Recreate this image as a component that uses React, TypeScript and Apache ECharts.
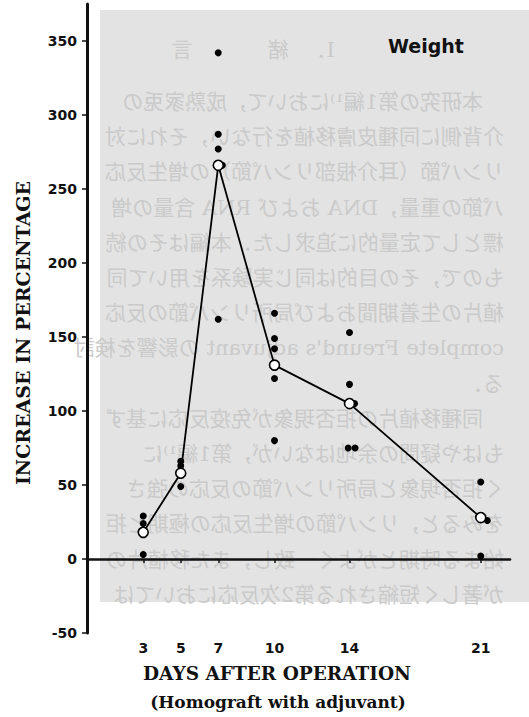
import React, { useEffect, useRef } from "react";
import * as echarts from "echarts";

// ---- data ----
const DAYS = [3, 5, 7, 10, 14, 21];
const MEAN_INCREASE = [18, 58, 266, 131, 105, 28];

// individual animals (small x offsets = side-by-side dots in the original plot)
const POINT_DAYS = [3, 3, 3, 5, 5, 5, 7, 7, 7, 7.22, 7, 10, 10, 10, 10, 10, 14, 14, 14.27, 13.93, 14.3, 21, 21.35, 21];
const POINT_VALUES = [29, 24, 3, 66, 63, 49, 342, 287, 277, 266, 162, 166, 149, 142, 122, 80, 153, 118, 105, 75, 75, 52, 26, 2];

const Y_TICKS = [-50, 0, 50, 100, 150, 200, 250, 300, 350];

const TITLE = "Weight";
const Y_TITLE = "INCREASE IN PERCENTAGE";
const X_TITLE = "DAYS AFTER OPERATION";
const X_SUBTITLE = "(Homograft with adjuvant)";

// faint mirrored print showing through from the reverse of the page
const BLEED_HEADING = ["I．", "緒", "言"];
const BLEED_LINES = [
  "　本研究の第1編¹⁾において，成熟家兎の",
  "介背側に同種皮膚移植を行ない，それに対",
  "リンパ節（耳介根部リンパ節）の増生反応",
  "パ節の重量，DNA および RNA 含量の増",
  "標として定量的に追求した．本編はその続",
  "もので，その目的は同じ実験系を用いて同",
  "植片の生着期間および局所リンパ節の反応",
  "complete Freund's adjuvant の影響を検討",
  "る．",
  "　同種移植片の拒否現象が免疫反応に基ず",
  "もはや疑問の余地はないが，第1編¹⁾に",
  "く拒否現象と局所リンパ節の反応の強さ",
  "をみると，リンパ節の増生反応の極期と拒",
  "始まる時期とがよく一致し，また移植片の",
  "が著しく短縮される第2次反応においては",
];

export default function App() {
  const ref = useRef<HTMLDivElement>(null);

  useEffect(() => {
    if (!ref.current) return;
    const chart = echarts.init(ref.current, undefined, { renderer: "svg" });

    const bleedFont = '21px "DejaVu Serif", "Noto Sans CJK JP"';
    const bleedColor = "#cacaca";
    const headingX = [320, 278, 182];

    const graphic: any[] = [
      {
        type: "rect",
        z: -10,
        shape: { x: 100, y: 10, width: 429, height: 592 },
        style: { fill: "#e3e3e3" },
        silent: true,
      },
      ...BLEED_HEADING.map((t, i) => ({
        type: "text",
        z: -5,
        x: headingX[i],
        y: 50,
        scaleX: -1,
        silent: true,
        style: { text: t, font: bleedFont, fill: bleedColor, textAlign: "center", textVerticalAlign: "middle" },
      })),
      ...BLEED_LINES.map((t, i) => ({
        type: "text",
        z: -5,
        x: 504,
        y: 102 + i * 35.2,
        scaleX: -1,
        silent: true,
        style: { text: t, font: bleedFont, fill: bleedColor, textAlign: "left", textVerticalAlign: "middle" },
      })),
      {
        type: "text",
        x: 426,
        y: 46,
        style: {
          text: TITLE,
          font: 'bold 19px "DejaVu Sans"',
          fill: "#111",
          textAlign: "center",
          textVerticalAlign: "middle",
        },
      },
      {
        type: "text",
        x: 23,
        y: 333,
        rotation: Math.PI / 2,
        style: {
          text: Y_TITLE,
          font: 'bold 19px "DejaVu Serif"',
          fill: "#111",
          textAlign: "center",
          textVerticalAlign: "middle",
        },
      },
      {
        type: "text",
        x: 277,
        y: 673,
        style: {
          text: X_TITLE,
          font: 'bold 18.5px "DejaVu Serif"',
          fill: "#111",
          textAlign: "center",
          textVerticalAlign: "middle",
        },
      },
      {
        type: "text",
        x: 278,
        y: 702,
        style: {
          text: X_SUBTITLE,
          font: 'bold 17px "DejaVu Serif"',
          fill: "#111",
          textAlign: "center",
          textVerticalAlign: "middle",
        },
      },
    ];

    chart.setOption({
      animation: false,
      backgroundColor: "#ffffff",
      grid: { left: 87, right: 19, top: 4, bottom: 84 },
      xAxis: {
        type: "value",
        min: 0,
        max: 22.56,
        axisLine: { show: true, lineStyle: { color: "#111", width: 2.6 } },
        axisTick: { show: true, customValues: DAYS, length: 4, lineStyle: { color: "#111", width: 1.5 } },
        axisLabel: {
          customValues: DAYS,
          margin: 8,
          color: "#111",
          fontFamily: "DejaVu Sans",
          fontWeight: "bold",
          fontSize: 14,
        },
        splitLine: { show: false },
      },
      yAxis: {
        type: "value",
        min: -50,
        max: 375,
        axisLine: { show: true, lineStyle: { color: "#111", width: 3 } },
        axisTick: { show: true, customValues: Y_TICKS, length: 5, lineStyle: { color: "#111", width: 1.5 } },
        axisLabel: {
          customValues: Y_TICKS,
          margin: 10,
          color: "#111",
          fontFamily: "DejaVu Sans",
          fontWeight: "bold",
          fontSize: 14,
        },
        splitLine: { show: false },
      },
      series: [
        {
          type: "scatter",
          data: POINT_DAYS.map((d, i) => [d, POINT_VALUES[i]]),
          symbol: "circle",
          symbolSize: 7,
          itemStyle: { color: "#000", opacity: 1 },
          z: 2,
        },
        {
          type: "line",
          data: DAYS.map((d, i) => [d, MEAN_INCREASE[i]]),
          symbol: "circle",
          symbolSize: 10,
          showAllSymbol: true,
          lineStyle: { color: "#000", width: 1.8 },
          itemStyle: { color: "#ffffff", borderColor: "#000", borderWidth: 1.6 },
          z: 3,
        },
      ],
      graphic,
    });

    return () => chart.dispose();
  }, []);

  return (
    <div
      ref={ref}
      style={{ position: "absolute", left: 0, top: 0, width: 529, height: 717 }}
    />
  );
}
